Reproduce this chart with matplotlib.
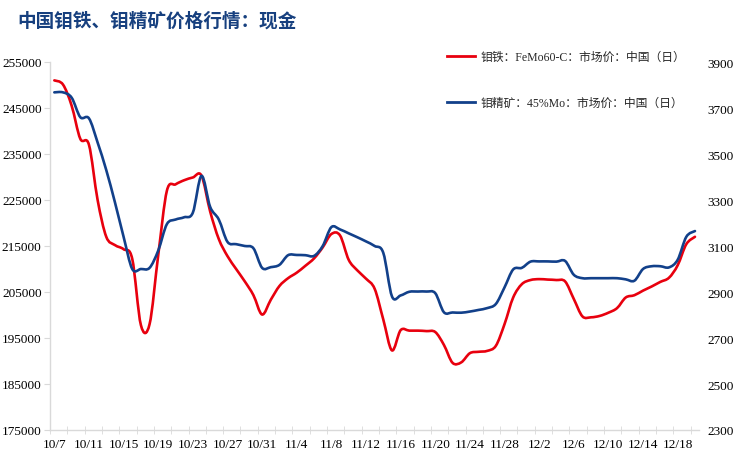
import numpy as np
import pandas as pd
import matplotlib
matplotlib.use("Agg")
import matplotlib.pyplot as plt
from matplotlib.path import Path
from matplotlib.patches import PathPatch
from matplotlib.lines import Line2D

# ---------------- data ----------------
dates = pd.date_range("2023-10-07", "2023-12-20", freq="D")

femo = [251000, 250100, 245500, 238300, 237000, 225000, 217000, 215200, 214300, 212200,
        197800, 198000, 213000, 227000, 228400, 229300, 229900, 230300, 222500, 216500,
        212800, 210000, 207300, 204300, 200100, 203300, 206300, 208000, 209200, 210700,
        212300, 214700, 217600, 217300, 212000, 209700, 207900, 205700, 199000, 192300,
        196700, 196600, 196600, 196500, 196300, 193500, 189600, 189700, 191700, 192000,
        192200, 193300, 198000, 203800, 206700, 207600, 207800, 207700, 207600, 207300,
        203500, 199700, 199500, 199800, 200500, 201500, 203800, 204300, 205300, 206200,
        207200, 208100, 210800, 215400, 217000]

moconc = [3768, 3768, 3745, 3660, 3655, 3550, 3430, 3290, 3140, 3000,
          3000, 3005, 3080, 3195, 3215, 3225, 3245, 3405, 3270, 3215,
          3118, 3108, 3100, 3090, 3005, 3008, 3018, 3060, 3061, 3060,
          3057, 3100, 3182, 3172, 3155, 3138, 3120, 3100, 3070, 2881,
          2885, 2901, 2902, 2902, 2895, 2812, 2811, 2810, 2815, 2822,
          2830, 2848, 2920, 2998, 3005, 3032, 3033, 3033, 3032, 3035,
          2975, 2960, 2960, 2960, 2960, 2960, 2955, 2949, 3000, 3012,
          3012, 3007, 3040, 3140, 3165]

title = "中国钼铁、钼精矿价格行情：现金"
label_femo = "钼铁：FeMo60-C：市场价：中国（日）"
label_mo = "钼精矿：45%Mo：市场价：中国（日）"
left_ticks = list(range(175000, 255001, 10000))
right_ticks = list(range(2300, 3901, 200))

RED = "#E8000E"
BLUE = "#12408A"
GRID = "#D9D9D9"
SERIF = ["Liberation Serif", "Noto Sans CJK SC"]


def smooth_path(x, y):
    """Excel-like smoothed line (Catmull-Rom as cubic Bezier)."""
    x = np.asarray(x, float)
    y = np.asarray(y, float)
    n = len(x)
    verts = [(x[0], y[0])]
    codes = [Path.MOVETO]
    for i in range(n - 1):
        xa, ya = (x[i - 1], y[i - 1]) if i > 0 else (x[i], y[i])
        xb, yb = (x[i + 2], y[i + 2]) if i + 2 < n else (x[i + 1], y[i + 1])
        c1 = (x[i] + (x[i + 1] - xa) / 6.0, y[i] + (y[i + 1] - ya) / 6.0)
        c2 = (x[i + 1] - (xb - x[i]) / 6.0, y[i + 1] - (yb - y[i]) / 6.0)
        verts += [c1, c2, (x[i + 1], y[i + 1])]
        codes += [Path.CURVE4] * 3
    return Path(verts, codes)


xpos = np.arange(len(dates))

fig = plt.figure(figsize=(7.35, 4.77), dpi=100)
ax = fig.add_axes([50 / 735, 46 / 477, 649.3 / 735, 368 / 477])
ax2 = ax.twinx()

ax.add_patch(PathPatch(smooth_path(xpos, femo), facecolor="none", edgecolor=RED,
                       lw=1.9, capstyle="round", joinstyle="round"))
ax2.add_patch(PathPatch(smooth_path(xpos, moconc), facecolor="none", edgecolor=BLUE,
                        lw=1.9, capstyle="round", joinstyle="round"))

ax.set_xlim(-0.5, len(dates) - 0.5)
ax.set_ylim(175000, 255000)
ax2.set_ylim(2300, 3900)
ax.set_yticks(left_ticks)
ax.set_yticklabels([str(v) for v in left_ticks], family=SERIF, fontsize=9.5)
ax2.set_yticks(right_ticks)
ax2.set_yticklabels([str(v) for v in right_ticks], family=SERIF, fontsize=9.5)

major = xpos[::4]
ax.set_xticks(major)
ax.set_xticklabels([f"{d.month}/{d.day}" for d in dates[::4]], family=SERIF, fontsize=9.5)
ax.set_xticks(np.arange(-0.5, len(dates) - 0.5, 2), minor=True)

for s in ["top", "right"]:
    ax.spines[s].set_visible(False)
for s in ["left", "bottom"]:
    ax.spines[s].set_color(GRID)
    ax.spines[s].set_linewidth(1.0)
for s in ax2.spines.values():
    s.set_visible(False)

ax.tick_params(axis="x", which="major", length=0, pad=6, colors="black")
ax.tick_params(axis="x", which="minor", length=6, direction="inout", color=GRID)
ax.tick_params(axis="y", length=4, color=GRID, labelcolor="black", pad=2)
ax2.tick_params(axis="y", length=0, pad=6, labelcolor="black")

handles = [Line2D([], [], color=RED, lw=2.0), Line2D([], [], color=BLUE, lw=2.0)]
fig.legend(handles, [label_femo, label_mo], loc="upper left",
           bbox_to_anchor=(447 / 735, 1 - 52 / 477), frameon=False,
           prop={"family": SERIF, "size": 8.5}, handlelength=2.4,
           handletextpad=0.45, labelspacing=2.9, borderpad=0, borderaxespad=0,
           labelcolor="#262626")

fig.text(17 / 735, 1 - 21 / 477, title, fontsize=13.4, fontweight="bold",
         color="#17407F", va="center", ha="left", family=["Noto Sans CJK SC"])

fig.savefig("out.png", dpi=100)
